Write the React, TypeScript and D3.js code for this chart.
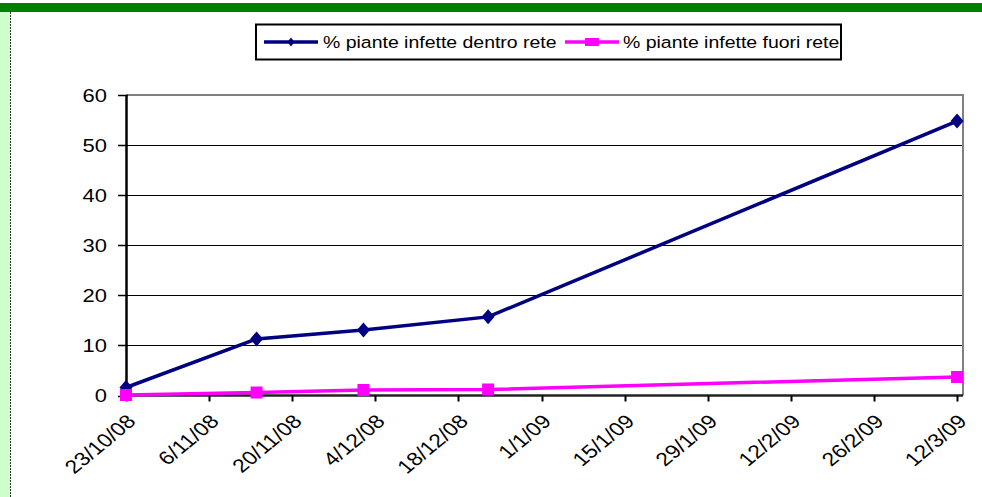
import React, { useRef, useEffect } from "react";
import * as d3 from "d3";

const WIDTH = 982;
const HEIGHT = 497;

// sampling dates and readings (% plants infected)
const DATES = ["23/10/08", "14/11/08", "2/12/08", "23/12/08", "12/3/09"];
const INSIDE = [1.6, 11.3, 13.1, 15.7, 54.8];
const OUTSIDE = [0.1, 0.6, 1.1, 1.2, 3.7];

const X_TICKS = [
  "23/10/08",
  "6/11/08",
  "20/11/08",
  "4/12/08",
  "18/12/08",
  "1/1/09",
  "15/1/09",
  "29/1/09",
  "12/2/09",
  "26/2/09",
  "12/3/09",
];
const X_END = "13/3/09";
const Y_TICKS = [0, 10, 20, 30, 40, 50, 60];

const SERIES_NAMES = [
  "% piante infette dentro rete",
  "% piante infette fuori rete",
];
const BLUE = "#000080";
const MAGENTA = "#ff00ff";
const FONT = "Arial, 'Liberation Sans', sans-serif";

export default function App() {
  const svgRef = useRef<SVGSVGElement>(null);

  useEffect(() => {
    if (!svgRef.current) return;
    const svg = d3.select(svgRef.current);
    svg.selectAll("*").remove();

    const parse = d3.utcParse("%d/%m/%y");
    const plot = { left: 126, top: 95, right: 963, bottom: 395.5 };

    const x = d3
      .scaleUtc()
      .domain([parse(X_TICKS[0])!, parse(X_END)!])
      .range([plot.left, plot.right]);
    const y = d3.scaleLinear().domain([0, 60]).range([plot.bottom, plot.top]);

    // page frame: green band on top, pale strip on the left
    svg.append("rect").attr("width", WIDTH).attr("height", HEIGHT).attr("fill", "#fff");
    svg.append("rect").attr("x", 0).attr("y", 3).attr("width", WIDTH).attr("height", 9).attr("fill", "#008000");
    svg.append("rect").attr("x", 0).attr("y", 12).attr("width", 10).attr("height", HEIGHT - 12).attr("fill", "#ccffcc");
    svg
      .append("line")
      .attr("x1", 10.5)
      .attr("x2", 10.5)
      .attr("y1", 12)
      .attr("y2", HEIGHT)
      .attr("stroke", "#333")
      .attr("stroke-width", 1)
      .attr("stroke-dasharray", "2,1");

    // gridlines
    svg
      .append("g")
      .selectAll("line")
      .data(Y_TICKS.filter((d) => d > 0 && d < 60))
      .join("line")
      .attr("x1", plot.left)
      .attr("x2", plot.right)
      .attr("y1", (d) => Math.round(y(d)) + 0.5)
      .attr("y2", (d) => Math.round(y(d)) + 0.5)
      .attr("stroke", "#000")
      .attr("stroke-width", 1);

    // plot border (top / right)
    svg
      .append("path")
      .attr("d", `M${plot.left},${plot.top}H${plot.right}V${plot.bottom}`)
      .attr("fill", "none")
      .attr("stroke", "#808080")
      .attr("stroke-width", 2);

    // y axis
    const yAxis = svg.append("g");
    yAxis
      .append("line")
      .attr("x1", plot.left + 0.5)
      .attr("x2", plot.left + 0.5)
      .attr("y1", plot.top)
      .attr("y2", plot.bottom + 1)
      .attr("stroke", "#000")
      .attr("stroke-width", 2.5);
    yAxis
      .selectAll("line.tick")
      .data(Y_TICKS)
      .join("line")
      .attr("class", "tick")
      .attr("x1", plot.left - 8)
      .attr("x2", plot.left + 2)
      .attr("y1", (d) => Math.round(y(d)) + 0.5)
      .attr("y2", (d) => Math.round(y(d)) + 0.5)
      .attr("stroke", "#000")
      .attr("stroke-width", 1.5);
    yAxis
      .selectAll("text")
      .data(Y_TICKS)
      .join("text")
      .attr("transform", (d) => `translate(107,${y(d) + 6.5}) scale(1.22,1)`)
      .attr("text-anchor", "end")
      .style("font-family", FONT)
      .style("font-size", "18px")
      .style("fill", "#000")
      .text((d) => d);

    // x axis
    const xAxis = svg.append("g");
    xAxis
      .append("line")
      .attr("x1", plot.left)
      .attr("x2", plot.right)
      .attr("y1", plot.bottom)
      .attr("y2", plot.bottom)
      .attr("stroke", "#222")
      .attr("stroke-width", 2.5);
    xAxis
      .selectAll("line.tick")
      .data(X_TICKS)
      .join("line")
      .attr("class", "tick")
      .attr("x1", (d) => Math.round(x(parse(d)!)) + 0.5)
      .attr("x2", (d) => Math.round(x(parse(d)!)) + 0.5)
      .attr("y1", plot.bottom)
      .attr("y2", plot.bottom + 6)
      .attr("stroke", "#000")
      .attr("stroke-width", 2);
    xAxis
      .selectAll("text")
      .data(X_TICKS)
      .join("text")
      .attr(
        "transform",
        (d) => `translate(${x(parse(d)!) + 11},${plot.bottom + 27}) scale(1.2,1) rotate(-45)`
      )
      .attr("text-anchor", "end")
      .style("font-family", FONT)
      .style("font-size", "19px")
      .style("fill", "#000")
      .text((d) => d);

    // series
    const pts = (vals: number[]) =>
      DATES.map((d, i) => [x(parse(d)!), y(vals[i])] as [number, number]);
    const line = d3.line<[number, number]>();
    const diamond = (w: number, h: number) => `M0,${-h}L${w},0L0,${h}L${-w},0Z`;

    svg
      .append("path")
      .attr("d", line(pts(INSIDE)))
      .attr("fill", "none")
      .attr("stroke", BLUE)
      .attr("stroke-width", 3.5);
    svg
      .append("g")
      .selectAll("path")
      .data(pts(INSIDE))
      .join("path")
      .attr("transform", (p) => `translate(${p[0]},${p[1]})`)
      .attr("d", diamond(6.5, 7.5))
      .attr("fill", BLUE);

    svg
      .append("path")
      .attr("d", line(pts(OUTSIDE)))
      .attr("fill", "none")
      .attr("stroke", MAGENTA)
      .attr("stroke-width", 3.5);
    svg
      .append("g")
      .selectAll("rect")
      .data(pts(OUTSIDE))
      .join("rect")
      .attr("x", (p) => p[0] - 6)
      .attr("y", (p) => p[1] - 6)
      .attr("width", 12)
      .attr("height", 12)
      .attr("fill", MAGENTA);

    // legend
    const legend = svg.append("g");
    legend
      .append("rect")
      .attr("x", 256)
      .attr("y", 24.5)
      .attr("width", 585)
      .attr("height", 35)
      .attr("fill", "#fff")
      .attr("stroke", "#000")
      .attr("stroke-width", 2);

    const items = [
      { x0: 264, tx: 323, color: BLUE },
      { x0: 565, tx: 623, color: MAGENTA },
    ];
    items.forEach((it, i) => {
      legend
        .append("line")
        .attr("x1", it.x0)
        .attr("x2", it.x0 + 54)
        .attr("y1", 42)
        .attr("y2", 42)
        .attr("stroke", it.color)
        .attr("stroke-width", 3.5);
      if (i === 0) {
        legend
          .append("path")
          .attr("transform", `translate(${it.x0 + 27},42)`)
          .attr("d", diamond(3.5, 4.5))
          .attr("fill", it.color);
      } else {
        legend
          .append("rect")
          .attr("x", it.x0 + 20)
          .attr("y", 38)
          .attr("width", 14)
          .attr("height", 8)
          .attr("fill", it.color);
      }
      legend
        .append("text")
        .attr("transform", `translate(${it.tx},48) scale(1.18,1)`)
        .style("font-family", FONT)
        .style("font-size", "16.5px")
        .style("fill", "#000")
        .text(SERIES_NAMES[i]);
    });
  }, []);

  return (
    <svg
      ref={svgRef}
      width={WIDTH}
      height={HEIGHT}
      viewBox={`0 0 ${WIDTH} ${HEIGHT}`}
      style={{ position: "absolute", left: 0, top: 0 }}
    />
  );
}
